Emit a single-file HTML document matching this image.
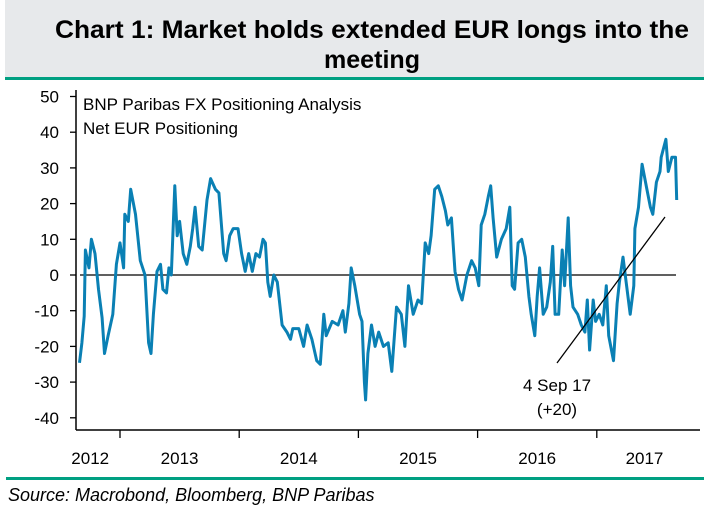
<!DOCTYPE html>
<html><head><meta charset="utf-8"><style>
body{margin:0;background:#fff;}
svg{display:block;font-family:"Liberation Sans",Arial,sans-serif;}
</style></head><body>
<svg width="704" height="512" viewBox="0 0 704 512">
<rect x="5" y="0" width="699" height="78" fill="#e7e9eb"/>
<rect x="5" y="77" width="699" height="3" fill="#00a082"/>
<text x="372" y="38" text-anchor="middle" font-size="25" font-weight="bold" fill="#000" textLength="634" lengthAdjust="spacingAndGlyphs">Chart 1: Market holds extended EUR longs into the</text>
<text x="372" y="68" text-anchor="middle" font-size="25" font-weight="bold" fill="#000" textLength="96" lengthAdjust="spacingAndGlyphs">meeting</text>
<g id="axes"></g>
<text x="83" y="110" font-size="17" fill="#000">BNP Paribas FX Positioning Analysis</text>
<text x="83" y="134" font-size="17" fill="#000">Net EUR Positioning</text>
<g id="series"></g>
<line x1="557" y1="363" x2="665" y2="217" stroke="#000" stroke-width="1.3"/>
<text x="557" y="391" text-anchor="middle" font-size="17">4 Sep 17</text>
<text x="557" y="415" text-anchor="middle" font-size="17">(+20)</text>
<rect x="6" y="477" width="698" height="3" fill="#00a082"/>
<text x="8" y="501" font-size="18" font-style="italic">Source: Macrobond, Bloomberg, BNP Paribas</text>
</svg>
<script>
const yTicks=[50,40,30,20,10,0,-10,-20,-30,-40];
const yearTicks=[2013,2014,2015,2016,2017];
const yearLabels=["2012","2013","2014","2015","2016","2017"];
const yearLabelPos=[2012.75,2013.5,2014.5,2015.5,2016.5,2017.4];
const dates=[2012.66,2012.68,2012.70,2012.71,2012.74,2012.76,2012.79,2012.82,2012.85,2012.87,2012.90,2012.94,2012.97,2013.00,2013.03,2013.04,2013.07,2013.09,2013.13,2013.17,2013.21,2013.24,2013.26,2013.28,2013.31,2013.34,2013.36,2013.39,2013.41,2013.43,2013.46,2013.48,2013.50,2013.53,2013.56,2013.59,2013.61,2013.63,2013.66,2013.69,2013.73,2013.76,2013.80,2013.83,2013.87,2013.89,2013.92,2013.95,2013.99,2014.02,2014.05,2014.08,2014.11,2014.14,2014.17,2014.20,2014.22,2014.24,2014.26,2014.29,2014.32,2014.36,2014.40,2014.43,2014.45,2014.50,2014.54,2014.57,2014.61,2014.65,2014.68,2014.71,2014.73,2014.78,2014.83,2014.87,2014.89,2014.92,2014.94,2014.97,2015.01,2015.03,2015.05,2015.06,2015.08,2015.11,2015.14,2015.17,2015.21,2015.25,2015.28,2015.32,2015.36,2015.39,2015.42,2015.46,2015.50,2015.53,2015.56,2015.59,2015.61,2015.64,2015.67,2015.70,2015.73,2015.75,2015.78,2015.81,2015.84,2015.87,2015.91,2015.95,2015.98,2016.01,2016.03,2016.06,2016.09,2016.11,2016.13,2016.16,2016.20,2016.24,2016.27,2016.29,2016.31,2016.34,2016.37,2016.40,2016.43,2016.45,2016.48,2016.50,2016.52,2016.55,2016.58,2016.61,2016.63,2016.65,2016.68,2016.71,2016.73,2016.76,2016.78,2016.80,2016.84,2016.87,2016.90,2016.92,2016.94,2016.97,2016.99,2017.02,2017.05,2017.08,2017.10,2017.14,2017.17,2017.19,2017.22,2017.25,2017.28,2017.31,2017.32,2017.35,2017.38,2017.42,2017.45,2017.47,2017.50,2017.53,2017.54,2017.58,2017.60,2017.63,2017.66,2017.67];
const values=[-24.6,-19,-11.5,7,2,10,6,-4,-12,-22,-17,-11,3,9,2,17,15,24,17,4,0,-19,-22,-11,1,3,-4,-5,2,0,25,11,15,6,3,8,13,19,8,7,21,27,24,23,6,4,11,13,13,6,1,6,1,6,5,10,9,-2,-6,0,-2,-14,-16,-18,-15,-15,-20,-14,-18,-24,-25,-11,-17,-13,-14,-10,-16,-8,2,-3,-11,-13,-30,-35,-22,-14,-20,-16,-20,-19,-27,-9,-11,-20,-3,-11,-7,-8,9,6,11,24,25,22,18,14,16,1,-4,-7,0,4,2,-3,14,17,22,25,16,5,10,13,19,-3,-4,9,10,5,-6,-11,-17,-6,2,-11,-9,-2,8,-11,-11,7,-3,16,-3,-9,-11,-14,-16,-7,-21,-7,-13,-11,-14,-3,-17,-24,-8,-2,5,-3,-11,-3,13,19,31,24,19,17,26,29,33,38,29,33,33,21];
const NS="http://www.w3.org/2000/svg";
const X0=76,X1=700,YB=430;
function xs(d){return 120+(d-2013)*119.2;}
function ys(v){return 275-v*3.57;}
const ax=document.getElementById('axes');
function mk(tag,attrs,parent){const e=document.createElementNS(NS,tag);for(const k in attrs)e.setAttribute(k,attrs[k]);parent.appendChild(e);return e;}
const yl=mk('line',{x1:X0,y1:90,x2:X0,y2:YB,stroke:'#000','stroke-width':1.5},ax);


const xl=mk('line',{x1:X0,y1:YB,x2:X1,y2:YB,stroke:'#000','stroke-width':1.5},ax);


const zl=mk('line',{x1:80,y1:ys(0),x2:676,y2:ys(0),stroke:'#000','stroke-width':1.2},ax);


yTicks.forEach(v=>{
  const t=mk('line',{x1:X0-6,y1:ys(v),x2:X0,y2:ys(v),stroke:'#000','stroke-width':1.3},ax);
  
  
  const l=mk('text',{x:59,y:ys(v)+6,'text-anchor':'end','font-size':17},ax);
  l.textContent=v;
  
  
});
yearTicks.forEach(d=>{
  const t=mk('line',{x1:xs(d),y1:YB,x2:xs(d),y2:YB+8,stroke:'#000','stroke-width':1.3},ax);
  
  
});
yearLabels.forEach((s,i)=>{
  const l=mk('text',{x:xs(yearLabelPos[i]),y:464,'text-anchor':'middle','font-size':17},ax);
  l.textContent=s;
  
  
});
const sg=document.getElementById('series');
const n=Math.min(dates.length,values.length);
const pts=[];
for(let i=0;i<n;i++)pts.push(xs(dates[i]).toFixed(1)+','+ys(values[i]).toFixed(1));
const pl=mk('polyline',{points:pts.join(' '),fill:'none',stroke:'#0a80b4','stroke-width':3,'stroke-linejoin':'round'},sg);


</script>
</body></html>
